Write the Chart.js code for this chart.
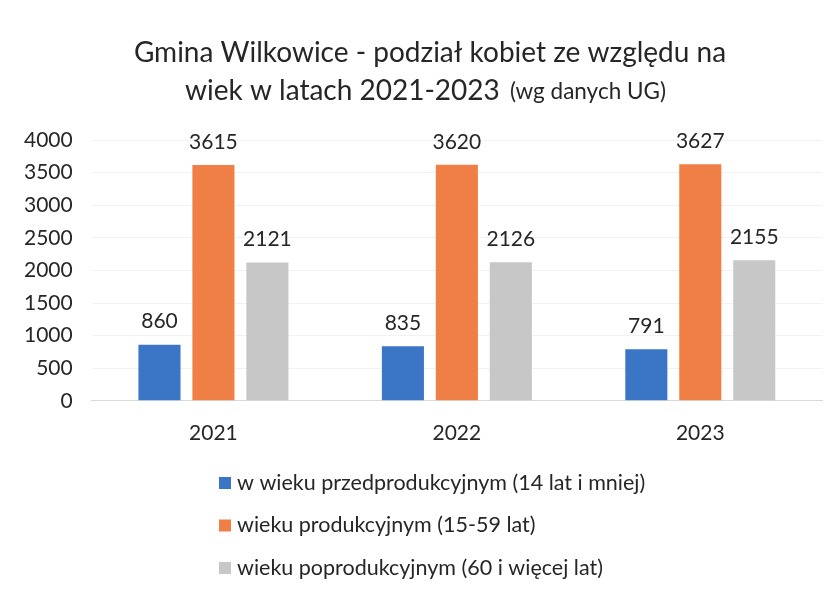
<!DOCTYPE html>
<html>
<head>
<meta charset="utf-8">
<script src="https://cdn.jsdelivr.net/npm/chart.js@4.4.1/dist/chart.umd.min.js"></script>
<style>
  html, body { margin: 0; padding: 0; background: #ffffff; }
  #wrap { width: 838px; height: 589px; position: relative; }
</style>
</head>
<body>
<div id="wrap"><canvas id="c" width="838" height="589"></canvas></div>
<script>
const categories = ['2021', '2022', '2023'];
const seriesNames = [
  'w wieku przedprodukcyjnym (14 lat i mniej)',
  'wieku produkcyjnym (15-59 lat)',
  'wieku poprodukcyjnym (60 i więcej lat)'
];
const preProductive = [860, 835, 791];
const productive = [3615, 3620, 3627];
const postProductive = [2121, 2126, 2155];
const yTicks = [0, 500, 1000, 1500, 2000, 2500, 3000, 3500, 4000];
const titleLine1 = 'Gmina Wilkowice - podział kobiet ze względu na';
const titleLine2Main = 'wiek w latach 2021-2023';
const titleLine2Note = '(wg danych UG)';

const FONT = 'Lato, "Open Sans", sans-serif';
const colors = ['#3b76c6', '#f07f45', '#c7c7c7'];
const TEXT = '#262626';

const titlePlugin = {
  id: 'titlePlugin',
  afterDraw(chart) {
    const ctx = chart.ctx;
    ctx.save();
    ctx.fillStyle = TEXT;
    ctx.textBaseline = 'middle';
    ctx.textAlign = 'left';
    ctx.font = '28px ' + FONT;
    const w1 = ctx.measureText(titleLine1).width;
    ctx.fillText(titleLine1, 430 - w1 / 2, 53);
    ctx.fillText(titleLine2Main, 185, 91);
    ctx.font = '22.5px ' + FONT;
    ctx.fillText(titleLine2Note, 510, 92);
    ctx.restore();
  }
};

const valueLabels = {
  id: 'valueLabels',
  afterDatasetsDraw(chart) {
    const ctx = chart.ctx;
    ctx.save();
    ctx.fillStyle = TEXT;
    ctx.font = '21px ' + FONT;
    ctx.textAlign = 'center';
    ctx.textBaseline = 'middle';
    chart.data.datasets.forEach((ds, i) => {
      const meta = chart.getDatasetMeta(i);
      meta.data.forEach((bar, j) => {
        ctx.fillText(String(ds.data[j]), bar.x, bar.y - 23);
      });
    });
    ctx.restore();
  }
};

const legendPlugin = {
  id: 'legendPlugin',
  afterDraw(chart) {
    const ctx = chart.ctx;
    ctx.save();
    ctx.font = '21.5px ' + FONT;
    ctx.textBaseline = 'middle';
    ctx.textAlign = 'left';
    chart.data.datasets.forEach((ds, i) => {
      const y = 483 + i * 42.5;
      ctx.fillStyle = ds.backgroundColor;
      ctx.fillRect(219, y - 6, 12, 12);
      ctx.fillStyle = TEXT;
      ctx.fillText(ds.label, 237, y);
    });
    ctx.restore();
  }
};

const datasets = [preProductive, productive, postProductive].map((d, i) => ({
  label: seriesNames[i],
  data: d,
  backgroundColor: colors[i],
  categoryPercentage: 0.665,
  barPercentage: 0.78
}));

new Chart(document.getElementById('c'), {
  type: 'bar',
  data: { labels: categories, datasets },
  options: {
    responsive: false,
    animation: false,
    layout: { padding: { top: 140, left: 5, right: 16, bottom: 123 } },
    plugins: {
      legend: { display: false },
      title: { display: false },
      tooltip: { enabled: false }
    },
    scales: {
      x: {
        grid: { display: false, drawTicks: false },
        border: { display: true, color: '#d9d9d9' },
        ticks: { color: TEXT, font: { family: FONT, size: 21 }, padding: 20 }
      },
      y: {
        min: 0,
        max: 4000,
        afterBuildTicks(scale) { scale.ticks = yTicks.map(v => ({ value: v })); },
        grid: { color: '#f2f2f2', drawTicks: false },
        border: { display: false },
        ticks: {
          color: TEXT,
          font: { family: FONT, size: 21 },
          padding: 19,
          callback: (v) => String(v)
        }
      }
    }
  },
  plugins: [titlePlugin, valueLabels, legendPlugin]
});
</script>
</body>
</html>
